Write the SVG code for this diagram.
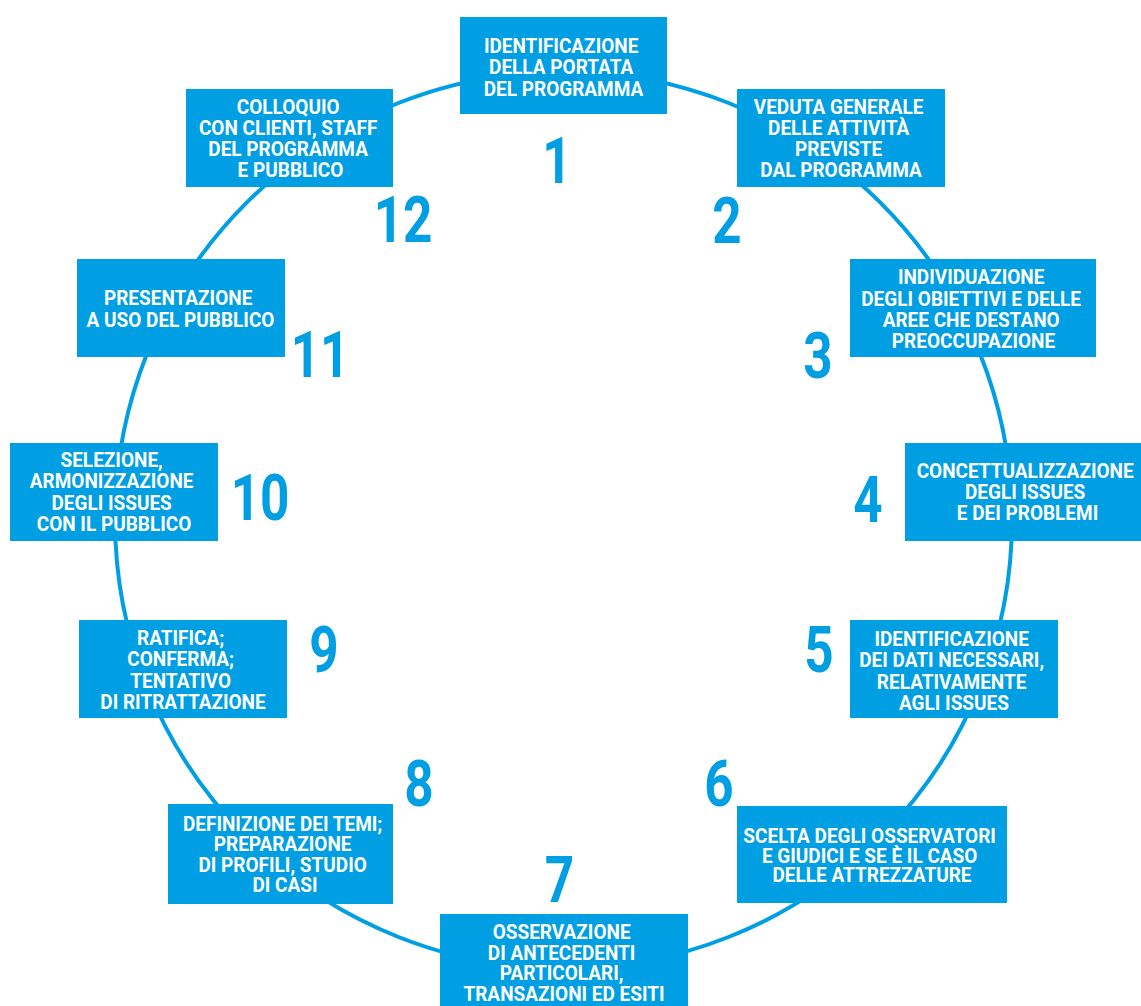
<svg xmlns="http://www.w3.org/2000/svg" width="1141" height="1006" viewBox="0 0 1141 1006">
  <style>
    .box { fill: #009FE3; }
    .lbl { fill: #FFFFFF; font-family: Roboto, "Liberation Sans", sans-serif; font-weight: bold; font-size: 20px; text-anchor: middle; }
    .num { fill: #009FE3; font-family: Roboto, "Liberation Sans", sans-serif; font-weight: bold; font-size: 64px; text-anchor: middle; }
    .ring { fill: none; stroke: #009FE3; stroke-width: 4; }
  </style>
  <rect width="1141" height="1006" fill="#FFFFFF"/>

  <!-- cycle ring joining all steps -->
  <g id="connectors">
    <circle class="ring" cx="563.5" cy="520" r="448.5"/>
  </g>

  <g id="step1">
    <rect class="box" x="460" y="17" width="207" height="97"/>
    <text class="lbl" transform="translate(563.5,0) scale(0.95,1)">
      <tspan x="0" y="52.7">IDENTIFICAZIONE</tspan>
      <tspan x="0" y="74.2">DELLA PORTATA</tspan>
      <tspan x="0" y="95.7">DEL PROGRAMMA</tspan>
    </text>
    <text class="num" transform="translate(557,183) scale(0.8,1)">1</text>
  </g>

  <g id="step2">
    <rect class="box" x="737" y="89" width="208" height="98"/>
    <text class="lbl" transform="translate(841,0) scale(0.95,1)">
      <tspan x="0" y="114">VEDUTA GENERALE</tspan>
      <tspan x="0" y="135.1">DELLE ATTIVITÀ</tspan>
      <tspan x="0" y="156.2">PREVISTE</tspan>
      <tspan x="0" y="177.3">DAL PROGRAMMA</tspan>
    </text>
    <text class="num" transform="translate(727,243) scale(0.8,1)">2</text>
  </g>

  <g id="step3">
    <rect class="box" x="850" y="259" width="246" height="98"/>
    <text class="lbl" transform="translate(973.5,0) scale(0.95,1)">
      <tspan x="0" y="284.3">INDIVIDUAZIONE</tspan>
      <tspan x="0" y="305.6">DEGLI OBIETTIVI E DELLE</tspan>
      <tspan x="0" y="327">AREE CHE DESTANO</tspan>
      <tspan x="0" y="348.3">PREOCCUPAZIONE</tspan>
    </text>
    <text class="num" transform="translate(818,378) scale(0.8,1)">3</text>
  </g>

  <g id="step4">
    <rect class="box" x="905" y="443" width="240" height="98"/>
    <text class="lbl" transform="translate(1027.5,0) scale(0.95,1)">
      <tspan x="0" y="477.7">CONCETTUALIZZAZIONE</tspan>
      <tspan x="0" y="499.1">DEGLI ISSUES</tspan>
      <tspan x="0" y="520.5">E DEI PROBLEMI</tspan>
    </text>
    <text class="num" transform="translate(868,522) scale(0.8,1)">4</text>
  </g>

  <g id="step5">
    <rect class="box" x="850" y="620" width="208" height="98"/>
    <text class="lbl" transform="translate(954,0) scale(0.95,1)">
      <tspan x="0" y="646">IDENTIFICAZIONE</tspan>
      <tspan x="0" y="667.3">DEI DATI NECESSARI,</tspan>
      <tspan x="0" y="688.6">RELATIVAMENTE</tspan>
      <tspan x="0" y="710">AGLI ISSUES</tspan>
    </text>
    <text class="num" transform="translate(819,672) scale(0.8,1)">5</text>
  </g>

  <g id="step6">
    <rect class="box" x="737" y="806" width="270" height="97"/>
    <text class="lbl" transform="translate(872,0) scale(0.95,1)">
      <tspan x="0" y="842.6">SCELTA DEGLI OSSERVATORI</tspan>
      <tspan x="0" y="862.6">E GIUDICI E SE È IL CASO</tspan>
      <tspan x="0" y="882">DELLE ATTREZZATURE</tspan>
    </text>
    <text class="num" transform="translate(719,806) scale(0.8,1)">6</text>
  </g>

  <g id="step7">
    <rect class="box" x="440" y="914" width="248" height="100"/>
    <text class="lbl" transform="translate(564,0) scale(0.95,1)">
      <tspan x="0" y="939.3">OSSERVAZIONE</tspan>
      <tspan x="0" y="959.8">DI ANTECEDENTI</tspan>
      <tspan x="0" y="980.3">PARTICOLARI,</tspan>
      <tspan x="0" y="1000.8">TRANSAZIONI ED ESITI</tspan>
    </text>
    <text class="num" transform="translate(559.5,902) scale(0.8,1)">7</text>
  </g>

  <g id="step8">
    <rect class="box" x="168" y="804" width="225" height="100"/>
    <text class="lbl" transform="translate(285,0) scale(0.95,1)">
      <tspan x="0" y="831">DEFINIZIONE DEI TEMI;</tspan>
      <tspan x="0" y="851.4">PREPARAZIONE</tspan>
      <tspan x="0" y="871.9">DI PROFILI, STUDIO</tspan>
      <tspan x="0" y="892.3">DI CASI</tspan>
    </text>
    <text class="num" transform="translate(419,806) scale(0.8,1)">8</text>
  </g>

  <g id="step9">
    <rect class="box" x="79" y="620" width="208" height="98"/>
    <text class="lbl" transform="translate(183,0) scale(0.95,1)">
      <tspan x="0" y="645">RATIFICA;</tspan>
      <tspan x="0" y="666.4">CONFERMA;</tspan>
      <tspan x="0" y="687.9">TENTATIVO</tspan>
      <tspan x="0" y="709.3">DI RITRATTAZIONE</tspan>
    </text>
    <text class="num" transform="translate(324,672) scale(0.8,1)">9</text>
  </g>

  <g id="step10">
    <rect class="box" x="10" y="443" width="208" height="98"/>
    <text class="lbl" transform="translate(114,0) scale(0.95,1)">
      <tspan x="0" y="467.3">SELEZIONE,</tspan>
      <tspan x="0" y="488.5">ARMONIZZAZIONE</tspan>
      <tspan x="0" y="509.8">DEGLI ISSUES</tspan>
      <tspan x="0" y="531">CON IL PUBBLICO</tspan>
    </text>
    <text class="num" transform="translate(260,520) scale(0.8,1)">10</text>
  </g>

  <g id="step11">
    <rect class="box" x="77" y="259" width="208" height="98"/>
    <text class="lbl" transform="translate(180.5,0) scale(0.95,1)">
      <tspan x="0" y="305">PRESENTAZIONE</tspan>
      <tspan x="0" y="326.7">A USO DEL PUBBLICO</tspan>
    </text>
    <text class="num" transform="translate(320,377) scale(0.8,1)">11</text>
  </g>

  <g id="step12">
    <rect class="box" x="186" y="89" width="207" height="98"/>
    <text class="lbl" transform="translate(290.5,0) scale(0.95,1)">
      <tspan x="0" y="114">COLLOQUIO</tspan>
      <tspan x="0" y="135.1">CON CLIENTI, STAFF</tspan>
      <tspan x="0" y="156.2">DEL PROGRAMMA</tspan>
      <tspan x="0" y="177.3">E PUBBLICO</tspan>
    </text>
    <text class="num" transform="translate(403,242) scale(0.8,1)">12</text>
  </g>
</svg>
